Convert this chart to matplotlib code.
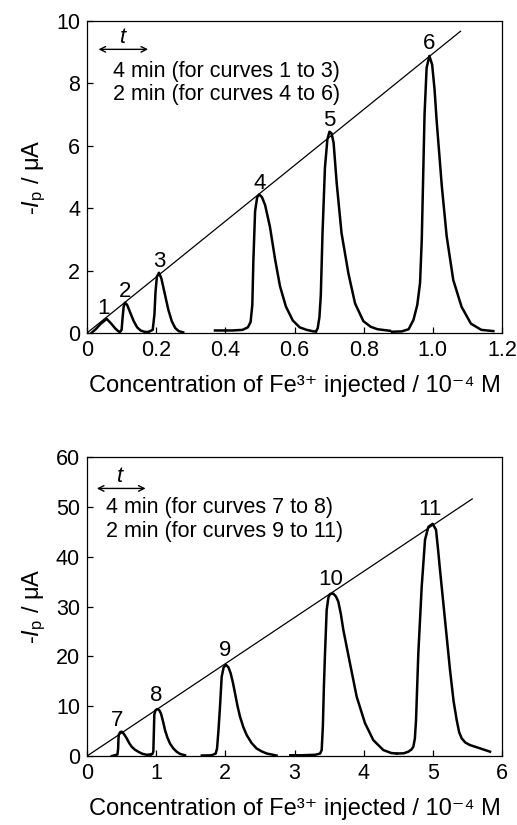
import numpy as np
import matplotlib
matplotlib.use('Agg')
import matplotlib.pyplot as plt

plt.rcParams['font.family'] = ['Liberation Sans', 'DejaVu Sans']
plt.rcParams['mathtext.fontset'] = 'custom'
plt.rcParams['mathtext.rm'] = 'Liberation Sans'
plt.rcParams['mathtext.it'] = 'Liberation Sans:italic'

# ---- top panel: curves 1-6 ----
c1_x = [0.013, 0.025, 0.04, 0.057, 0.07, 0.082, 0.09, 0.095]
c1_y = [0.0, 0.12, 0.3, 0.45, 0.3, 0.14, 0.06, 0.03]
c2_x = [0.095, 0.1, 0.103, 0.106, 0.110, 0.116, 0.125, 0.135, 0.145, 0.155, 0.165, 0.177]
c2_y = [0.03, 0.1, 0.5, 0.85, 0.97, 0.9, 0.65, 0.38, 0.18, 0.08, 0.04, 0.03]
c3_x = [0.177, 0.19, 0.195, 0.198, 0.202, 0.208, 0.215, 0.225, 0.235, 0.245, 0.255, 0.265, 0.278]
c3_y = [0.03, 0.1, 0.6, 1.3, 1.8, 1.93, 1.75, 1.25, 0.75, 0.38, 0.16, 0.06, 0.02]
c4_x = [0.37, 0.42, 0.45, 0.465, 0.473, 0.478, 0.481, 0.486, 0.492, 0.498, 0.506, 0.515,
        0.529, 0.544, 0.558, 0.575, 0.595, 0.615, 0.635, 0.655, 0.662]
c4_y = [0.08, 0.08, 0.1, 0.18, 0.35, 0.9, 2.3, 3.9, 4.35, 4.44, 4.35, 4.1,
        3.4, 2.35, 1.5, 0.85, 0.4, 0.18, 0.1, 0.05, 0.05]
c5_x = [0.662, 0.667, 0.672, 0.676, 0.681, 0.688, 0.695, 0.701, 0.707, 0.713, 0.722,
        0.736, 0.756, 0.775, 0.799, 0.82, 0.84, 0.876]
c5_y = [0.05, 0.15, 0.5, 1.2, 3.2, 5.3, 6.2, 6.45, 6.4, 6.1, 4.8,
        3.2, 1.9, 0.95, 0.38, 0.2, 0.12, 0.07]
c6_x = [0.882, 0.91, 0.93, 0.944, 0.955, 0.963, 0.968, 0.972, 0.976, 0.982, 0.99, 0.998,
        1.005, 1.011, 1.026, 1.04, 1.059, 1.083, 1.11, 1.14, 1.175]
c6_y = [0.04, 0.05, 0.12, 0.42, 0.9, 1.6, 3.0, 5.0, 7.0, 8.5, 8.88, 8.6,
        7.8, 6.8, 4.7, 3.1, 1.7, 0.84, 0.3, 0.1, 0.06]
top_fit_x = [0.0, 1.08]
top_fit_y = [0.0, 9.67]
top_labels = ['1', '2', '3', '4', '5', '6']
top_xticks = [0, 0.2, 0.4, 0.6, 0.8, 1.0, 1.2]
top_xticklabels = ['0', '0.2', '0.4', '0.6', '0.8', '1.0', '1.2']
top_yticks = [0, 2, 4, 6, 8, 10]

# ---- bottom panel: curves 7-11 ----
c7_x = [0.36, 0.44, 0.45, 0.455, 0.46, 0.48, 0.50, 0.53, 0.574, 0.61, 0.646, 0.69,
        0.742, 0.80, 0.863, 0.92]
c7_y = [0.0, 0.3, 1.5, 3.5, 4.3, 4.8, 4.88, 4.5, 3.55, 2.6, 1.87, 1.3,
        0.85, 0.45, 0.25, 0.3]
c8_x = [0.92, 0.945, 0.959, 0.965, 0.973, 0.99, 1.017, 1.045, 1.07, 1.1, 1.128, 1.16,
        1.2, 1.25, 1.297, 1.35, 1.417]
c8_y = [0.3, 0.4, 0.9, 4.0, 8.3, 9.2, 9.43, 9.2, 8.5, 6.9, 5.2, 3.8,
        2.5, 1.5, 0.85, 0.4, 0.15]
c9_x = [1.66, 1.8, 1.86, 1.88, 1.9, 1.923, 1.947, 1.975, 2.01, 2.045, 2.077, 2.11,
        2.14, 2.175, 2.212, 2.26, 2.309, 2.38, 2.453, 2.53, 2.6, 2.74]
c9_y = [0.1, 0.15, 0.5, 1.5, 5.0, 10.0, 15.9, 17.8, 18.3, 17.8, 16.6, 14.7,
        12.6, 10.1, 7.9, 5.8, 4.2, 2.6, 1.5, 0.9, 0.5, 0.1]
c10_x = [2.94, 3.1, 3.3, 3.37, 3.393, 3.41, 3.425, 3.441, 3.465, 3.49, 3.513, 3.561,
         3.6, 3.633, 3.67, 3.706, 3.802, 3.899, 4.019, 4.139, 4.284, 4.4, 4.478]
c10_y = [0.15, 0.15, 0.25, 0.5, 1.2, 6.0, 14.0, 20.6, 29.3, 31.8, 32.5, 32.6,
         32.0, 31.0, 28.5, 25.3, 18.6, 11.9, 6.6, 3.2, 1.2, 0.6, 0.5]
c11_x = [4.478, 4.58, 4.646, 4.69, 4.718, 4.74, 4.757, 4.79, 4.839, 4.887, 4.935, 4.998,
         5.046, 5.075, 5.104, 5.176, 5.248, 5.3, 5.345, 5.38, 5.417, 5.47, 5.538, 5.682, 5.827]
c11_y = [0.5, 0.55, 0.87, 1.3, 1.87, 3.5, 7.2, 20.6, 34.0, 43.4, 46.0, 46.6,
         45.4, 41.5, 37.3, 27.3, 17.3, 11.0, 7.2, 4.8, 3.55, 2.7, 2.2, 1.54, 0.87]
bot_fit_x = [0.0, 5.57]
bot_fit_y = [0.0, 51.6]
bot_labels = ['7', '8', '9', '10', '11']
bot_xticks = [0, 1, 2, 3, 4, 5, 6]
bot_yticks = [0, 10, 20, 30, 40, 50, 60]

xlabel = 'Concentration of Fe\u00b3\u207a injected / 10\u207b\u2074 M'
ylabel = '-$I$$_{\\rm p}$ / \u03bcA'

fig = plt.figure(figsize=(5.17, 8.25), dpi=100)
ax1 = fig.add_axes([0.1683, 0.5964, 0.8027, 0.3782])
ax2 = fig.add_axes([0.1683, 0.0836, 0.8027, 0.3624])


def style(ax):
    for s in ax.spines.values():
        s.set_linewidth(0.9)
    ax.tick_params(direction='in', length=4, width=0.9, labelsize=15.5, pad=5,
                   top=False, right=False)
    ax.set_xlabel(xlabel, fontsize=17, labelpad=10)
    ax.set_ylabel(ylabel, fontsize=17, labelpad=6)


def draw(ax, curves, labels, offsets):
    for (cx, cy), lab, off in zip(curves, labels, offsets):
        ax.plot(cx, cy, color='black', lw=1.8, solid_joinstyle='round')
        i = int(np.argmax(cy))
        ax.annotate(lab, xy=(cx[i], cy[i]), xytext=off, textcoords='offset points',
                    ha='center', va='baseline', fontsize=16)


top_curves = [(c1_x, c1_y), (c2_x, c2_y), (c3_x, c3_y), (c4_x, c4_y), (c5_x, c5_y), (c6_x, c6_y)]
draw(ax1, top_curves, top_labels, [(-2.5, 3.5), (0, 4), (0, 4), (0, 4), (0, 4), (0, 5)])
ax1.plot(top_fit_x, top_fit_y, color='black', lw=0.9)
ax1.set_xlim(0, 1.2)
ax1.set_ylim(0, 10)
ax1.set_xticks(top_xticks)
ax1.set_xticklabels(top_xticklabels)
ax1.set_yticks(top_yticks)
style(ax1)
ax1.annotate('', xy=(0.154, 0.909), xytext=(0.021, 0.909), xycoords='axes fraction',
             arrowprops=dict(arrowstyle='<->', lw=1.0, color='black'))
ax1.text(0.087, 0.928, '$t$', transform=ax1.transAxes, ha='center', va='baseline', fontsize=16)
ax1.text(0.063, 0.8375, '4 min (for curves 1 to 3)', transform=ax1.transAxes,
         ha='left', va='center', fontsize=15.5)
ax1.text(0.063, 0.763, '2 min (for curves 4 to 6)', transform=ax1.transAxes,
         ha='left', va='center', fontsize=15.5)

bot_curves = [(c7_x, c7_y), (c8_x, c8_y), (c9_x, c9_y), (c10_x, c10_y), (c11_x, c11_y)]
draw(ax2, bot_curves, bot_labels, [(-3.5, 4), (-1, 6), (-0.5, 6.5), (-2, 6.5), (-2, 6)])
ax2.plot(bot_fit_x, bot_fit_y, color='black', lw=0.9)
ax2.set_xlim(0, 6)
ax2.set_ylim(0, 60)
ax2.set_xticks(bot_xticks)
ax2.set_yticks(bot_yticks)
style(ax2)
ax2.annotate('', xy=(0.148, 0.895), xytext=(0.017, 0.895), xycoords='axes fraction',
             arrowprops=dict(arrowstyle='<->', lw=1.0, color='black'))
ax2.text(0.08, 0.915, '$t$', transform=ax2.transAxes, ha='center', va='baseline', fontsize=16)
ax2.text(0.046, 0.830, '4 min (for curves 7 to 8)', transform=ax2.transAxes,
         ha='left', va='center', fontsize=15.5)
ax2.text(0.046, 0.750, '2 min (for curves 9 to 11)', transform=ax2.transAxes,
         ha='left', va='center', fontsize=15.5)

fig.savefig('out.png', dpi=100)
